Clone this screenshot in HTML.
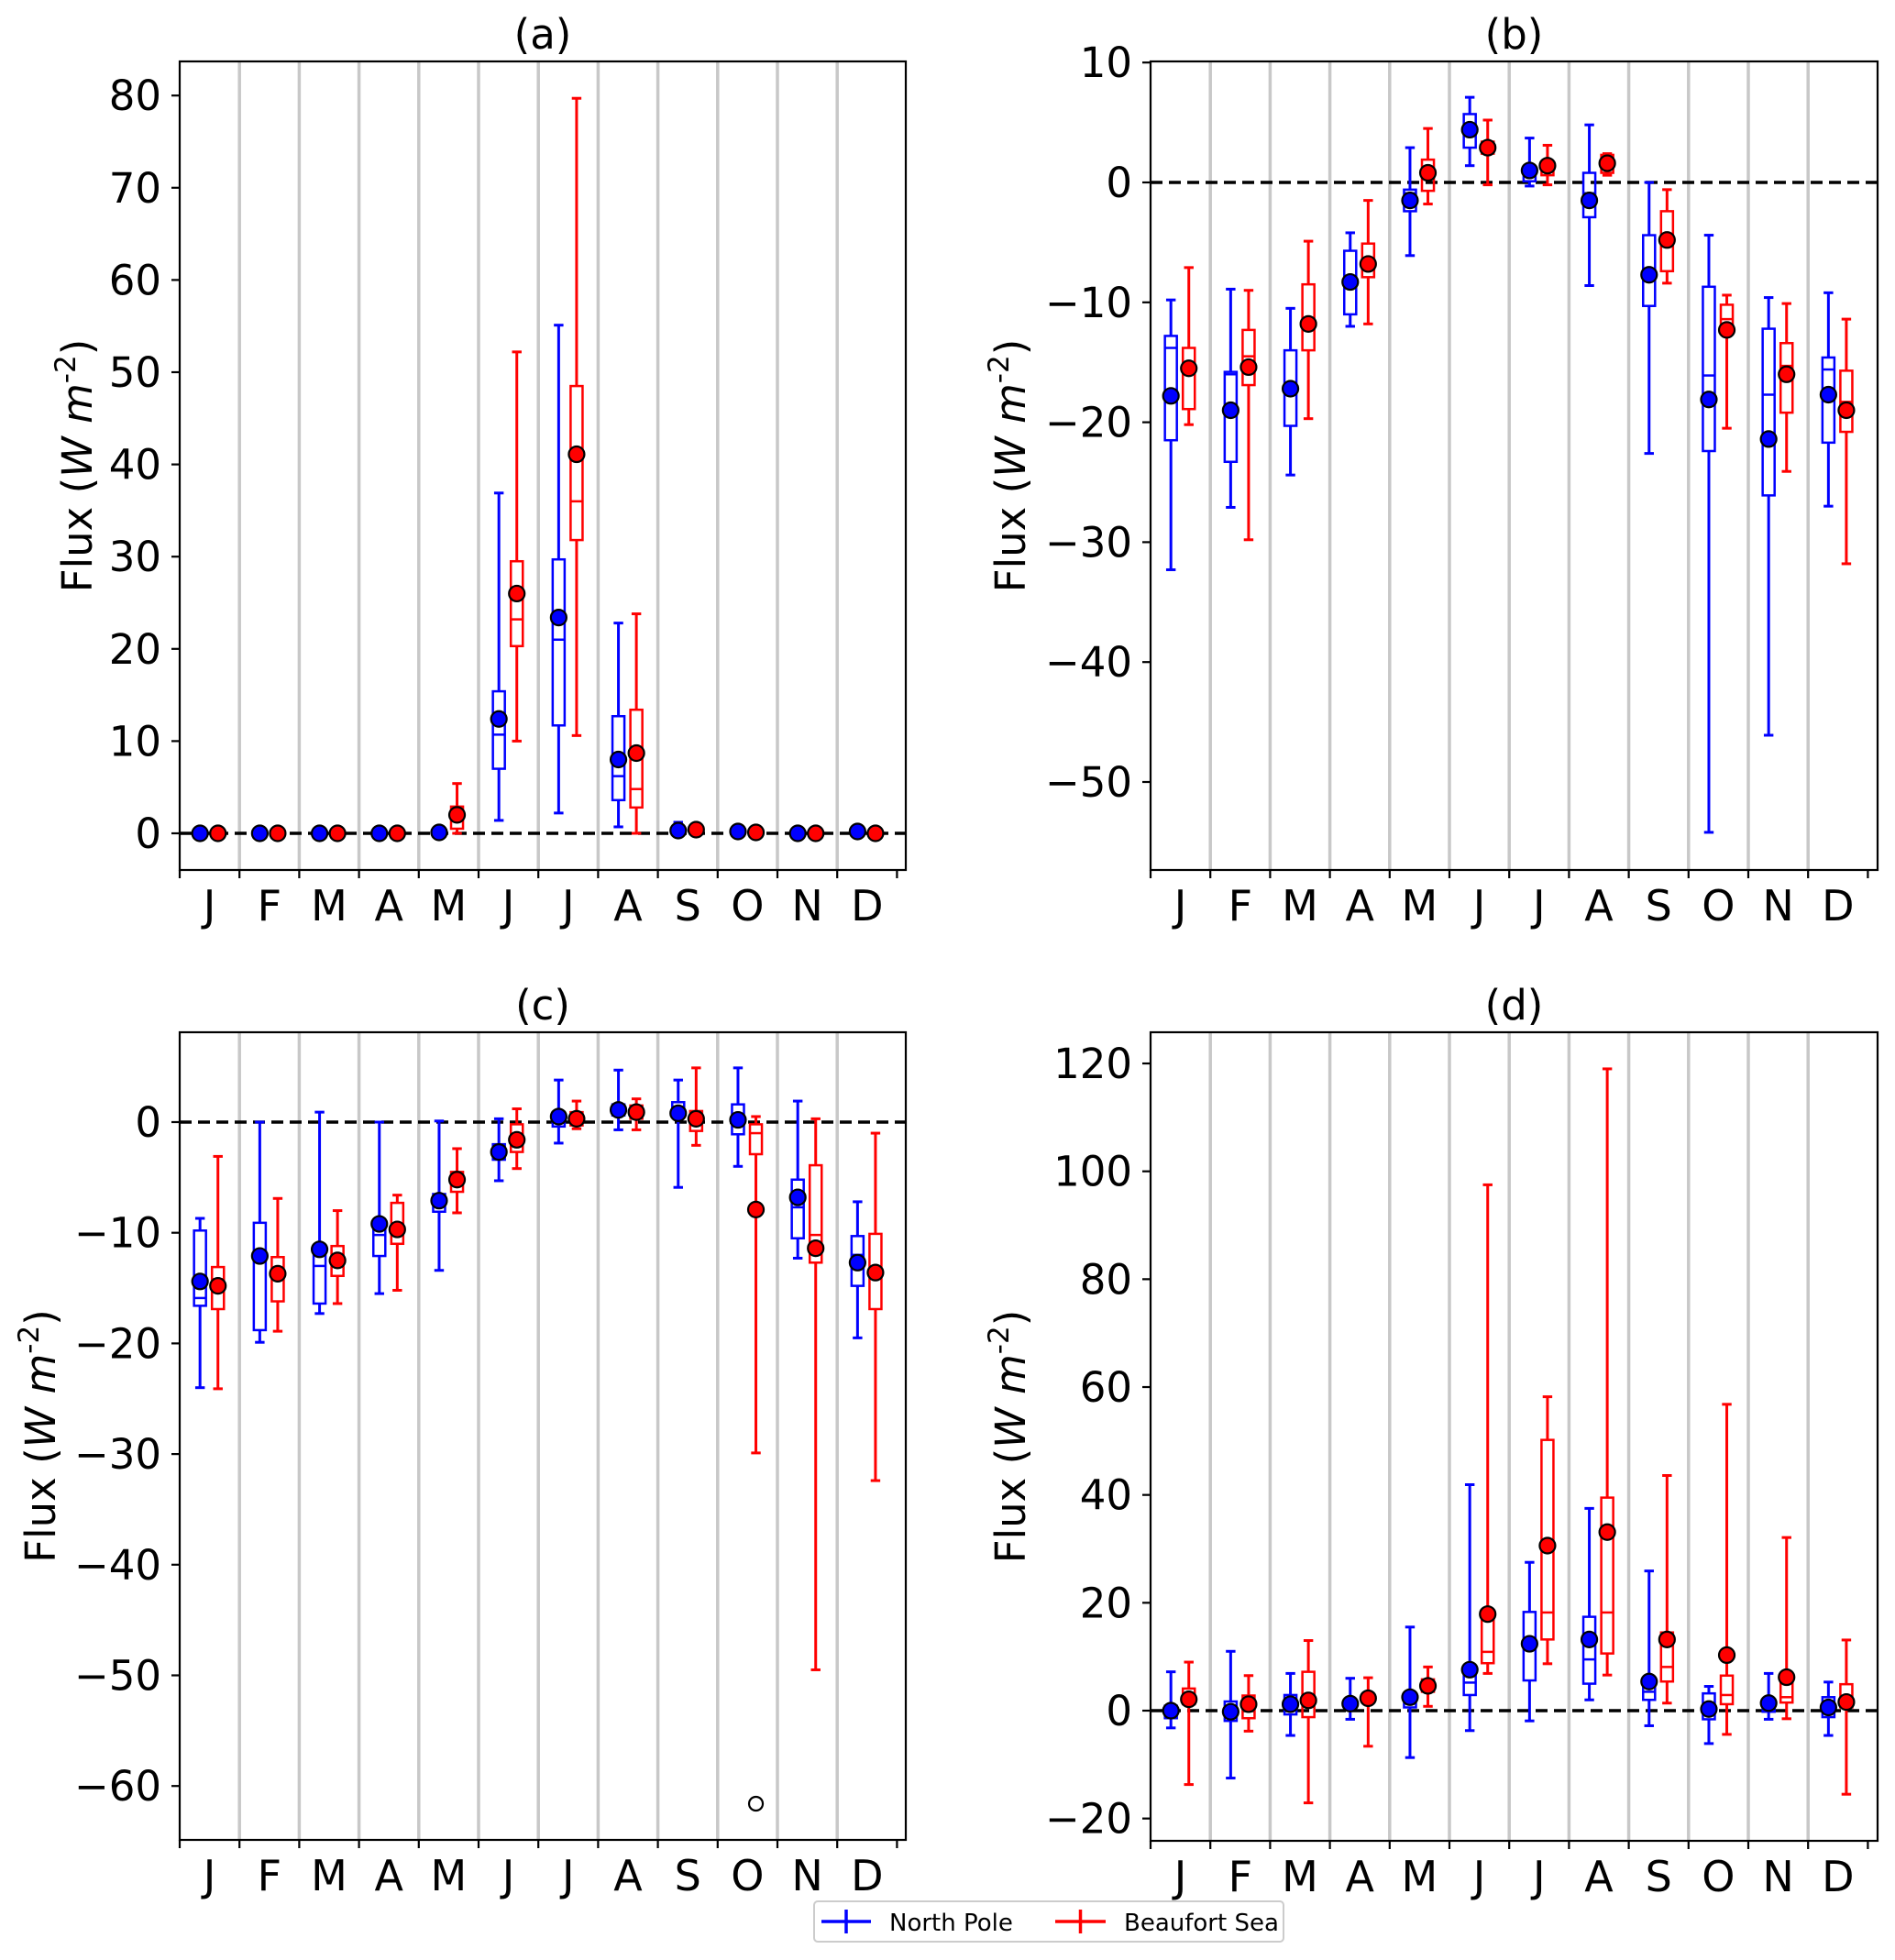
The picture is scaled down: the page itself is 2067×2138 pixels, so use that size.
<!DOCTYPE html>
<html><head><meta charset="utf-8"><style>
html,body{margin:0;padding:0;background:#fff}
svg{display:block;font-family:"DejaVu Sans","Liberation Sans",sans-serif}
</style></head><body>
<svg id="fig" width="2067" height="2138" viewBox="0 0 2067 2138" xmlns="http://www.w3.org/2000/svg"></svg>
<script>
const months = ["J","F","M","A","M","J","J","A","S","O","N","D"];
// Panel (a)
const a_np_lo=[0,0,0,0,0,1.4,2.2,0.7,0,0,0,0];
const a_np_q1=[0,0,0,0,0,7.0,11.7,3.6,0,0,0,0];
const a_np_med=[0,0,0,0,0,10.7,21.0,6.2,0.2,0,0,0];
const a_np_q3=[0,0,0,0,0.1,15.4,29.7,12.7,0.5,0.1,0,0.1];
const a_np_hi=[0,0,0,0,0.2,36.9,55.1,22.8,1.2,0.3,0,0.3];
const a_np_mean=[0,0,0,0,0.1,12.4,23.4,8.0,0.3,0.2,0,0.2];
const a_bs_lo=[0,0,0,0,0,10.0,10.6,0,0,0,0,0];
const a_bs_q1=[0,0,0,0,0.5,20.3,31.8,2.8,0.1,0,0,0];
const a_bs_med=[0,0,0,0,1.5,23.2,36.0,4.8,0.3,0.1,0,0];
const a_bs_q3=[0,0,0,0,2.9,29.5,48.5,13.4,0.5,0.2,0,0];
const a_bs_hi=[0,0,0,0,5.4,52.2,79.7,23.8,0.8,0.3,0,0];
const a_bs_mean=[0,0,0,0,2.0,26.0,41.1,8.7,0.4,0.1,0,0];
// Panel (b)
const b_np_lo=[-32.3,-27.1,-24.4,-12.0,-6.1,1.4,-0.3,-8.6,-22.6,-54.2,-46.1,-27.0];
const b_np_q1=[-21.5,-23.3,-20.3,-11.0,-2.4,2.9,0.1,-2.9,-10.3,-22.4,-26.1,-21.7];
const b_np_med=[-13.8,-16.0,-17.0,-8.0,-0.9,4.8,0.6,-0.9,-7.2,-16.1,-17.7,-15.6];
const b_np_q3=[-12.8,-15.8,-14.0,-5.7,-0.6,5.7,1.1,0.8,-4.4,-8.7,-12.2,-14.6];
const b_np_hi=[-9.8,-8.9,-10.5,-4.2,2.9,7.1,3.7,4.8,0,-4.4,-9.6,-9.2];
const b_np_mean=[-17.8,-19.0,-17.2,-8.3,-1.5,4.4,1.0,-1.5,-7.7,-18.1,-21.4,-17.7];
const b_bs_lo=[-20.2,-29.8,-19.7,-11.8,-1.8,-0.2,-0.2,0.6,-8.4,-20.5,-24.1,-31.8];
const b_bs_q1=[-18.9,-16.9,-14.0,-7.9,-0.7,2.4,0.6,0.8,-7.4,-12.1,-19.2,-20.8];
const b_bs_med=[-15.3,-14.5,-11.4,-6.9,1.1,3.1,1.1,1.8,-4.6,-11.4,-15.3,-18.3];
const b_bs_q3=[-13.8,-12.3,-8.5,-5.1,1.9,3.4,1.6,2.3,-2.4,-10.2,-13.4,-15.7];
const b_bs_hi=[-7.1,-9.0,-4.9,-1.5,4.5,5.2,3.1,2.4,-0.6,-9.4,-10.1,-11.4];
const b_bs_mean=[-15.5,-15.4,-11.8,-6.8,0.8,2.9,1.4,1.6,-4.8,-12.3,-16.0,-19.0];
// Panel (c)
const c_np_lo=[-24.0,-19.9,-17.3,-15.5,-13.4,-5.3,-1.9,-0.7,-5.9,-4.0,-12.3,-19.5];
const c_np_q1=[-16.6,-18.8,-16.4,-12.1,-8.1,-3.4,-0.4,0.6,1.0,-1.1,-10.5,-14.8];
const c_np_med=[-15.9,-12.0,-13.0,-10.2,-7.5,-2.7,0.5,1.1,1.4,0.5,-7.7,-12.0];
const c_np_q3=[-9.8,-9.1,-11.7,-9.4,-6.5,-2.0,0.9,1.6,1.8,1.6,-5.2,-10.3];
const c_np_hi=[-8.7,0,0.9,0,0.1,0.3,3.8,4.7,3.8,4.9,1.9,-7.2];
const c_np_mean=[-14.4,-12.1,-11.5,-9.2,-7.1,-2.7,0.5,1.1,0.8,0.2,-6.8,-12.7];
const c_bs_lo=[-24.1,-18.9,-16.4,-15.2,-8.2,-4.2,-0.6,-0.7,-2.1,-29.9,-49.5,-32.4];
const c_bs_q1=[-16.9,-16.2,-13.9,-11.0,-6.3,-2.7,-0.3,0.3,-0.8,-2.9,-12.7,-16.9];
const c_bs_med=[-14.2,-13.7,-12.0,-9.4,-5.2,-1.2,0.3,0.9,0.3,-1.0,-10.2,-13.2];
const c_bs_q3=[-13.1,-12.2,-11.2,-7.3,-4.5,-0.2,0.9,1.5,1.0,-0.2,-3.9,-10.1];
const c_bs_hi=[-3.1,-6.9,-8.0,-6.6,-2.4,1.2,1.9,2.1,4.9,0.5,0.3,-1.0];
const c_bs_mean=[-14.8,-13.7,-12.5,-9.7,-5.2,-1.6,0.3,0.9,0.3,-7.9,-11.4,-13.6];
const c_bs_outlierMonth=[9];
const c_bs_outlierValue=[-61.6];
// Panel (d)
const d_np_lo=[-3.2,-12.5,-4.6,-1.6,-8.7,-3.7,-1.9,2.0,-2.8,-6.1,-1.6,-4.6];
const d_np_q1=[-1.4,-1.9,-0.7,0.6,0.6,2.9,5.6,5.0,2.0,-1.6,-0.2,-1.2];
const d_np_med=[0,0.6,1.2,1.2,2.1,5.2,12.7,9.5,3.5,0.6,0.6,0.6];
const d_np_q3=[0.9,1.7,2.9,1.7,2.9,6.9,18.3,17.4,4.6,3.2,1.2,2.5];
const d_np_hi=[7.2,11.0,6.9,6.0,15.5,41.9,27.5,37.5,25.9,4.5,6.9,5.3];
const d_np_mean=[0,-0.2,1.2,1.3,2.5,7.6,12.4,13.2,5.4,0.3,1.4,0.6];
const d_bs_lo=[-13.7,-3.8,-17.1,-6.6,0.8,6.9,8.7,6.6,1.4,-4.4,-1.5,-15.5];
const d_bs_q1=[1.2,-1.4,-1.2,1.7,3.5,8.8,13.2,10.6,5.4,1.2,1.5,0.6];
const d_bs_med=[2.3,1.4,1.2,2.3,4.9,10.9,18.2,18.2,8.1,2.9,2.5,2.3];
const d_bs_q3=[4.1,2.8,7.2,2.9,5.8,17.9,50.2,39.5,14.5,6.5,5.8,4.9];
const d_bs_hi=[9.0,6.5,13.0,6.1,8.1,97.5,58.2,119,43.6,56.8,32.1,13.1];
const d_bs_mean=[2.1,1.2,1.9,2.3,4.6,17.9,30.6,33.1,13.2,10.3,6.2,1.6];

const a_ticks=[0,10,20,30,40,50,60,70,80];
const b_ticks=[10,0,-10,-20,-30,-40,-50];
const c_ticks=[0,-10,-20,-30,-40,-50,-60];
const d_ticks=[-20,0,20,40,60,80,100,120];

const NS="http://www.w3.org/2000/svg";
const svg=document.getElementById('fig');
function mk(tag,attrs,parent){const e=document.createElementNS(NS,tag);for(const k in attrs)e.setAttribute(k,attrs[k]);(parent||svg).appendChild(e);return e;}

const panels=[
 {key:'a',L:196,R:988,T:67,B:949,y0:909,ppu:10.06,ticks:a_ticks,labX:84,
  np:[a_np_lo,a_np_q1,a_np_med,a_np_q3,a_np_hi,a_np_mean],bs:[a_bs_lo,a_bs_q1,a_bs_med,a_bs_q3,a_bs_hi,a_bs_mean]},
 {key:'b',L:1255,R:2048,T:67,B:949,y0:199,ppu:13.08,ticks:b_ticks,labX:1102,
  np:[b_np_lo,b_np_q1,b_np_med,b_np_q3,b_np_hi,b_np_mean],bs:[b_bs_lo,b_bs_q1,b_bs_med,b_bs_q3,b_bs_hi,b_bs_mean]},
 {key:'c',L:196,R:988,T:1126,B:2007,y0:1224,ppu:12.07,ticks:c_ticks,labX:44,
  np:[c_np_lo,c_np_q1,c_np_med,c_np_q3,c_np_hi,c_np_mean],bs:[c_bs_lo,c_bs_q1,c_bs_med,c_bs_q3,c_bs_hi,c_bs_mean],
  outM:c_bs_outlierMonth,outV:c_bs_outlierValue},
 {key:'d',L:1255,R:2048,T:1126,B:2008,y0:1866,ppu:5.883,ticks:d_ticks,labX:1102,
  np:[d_np_lo,d_np_q1,d_np_med,d_np_q3,d_np_hi,d_np_mean],bs:[d_bs_lo,d_bs_q1,d_bs_med,d_bs_q3,d_bs_hi,d_bs_mean]}
];
const SP=65.2;

panels.forEach(p=>{
  const g=mk('g',{});
  
  
  const xs=u=>p.L+u*SP;
  const ys=v=>p.y0-v*p.ppu;
  for(let k=1;k<12;k++){
    const l=mk('line',{x1:xs(k),x2:xs(k),y1:p.T,y2:p.B,stroke:'#c8c8c8','stroke-width':3.5},g);
    
    
  }
  const z=mk('line',{x1:p.L,x2:p.R,y1:ys(0),y2:ys(0),stroke:'#000','stroke-width':3.5,'stroke-dasharray':'13,7'},g);
  
  
  const series=[{d:p.np,c:'#0000ff',off:0.34,n:'north-pole'},{d:p.bs,c:'#ff0000',off:0.64,n:'beaufort-sea'}];
  series.forEach(s=>{
    for(let i=0;i<12;i++){
      const [lo,q1,med,q3,hi,mean]=s.d.map(a=>a[i]);
      const cx=xs(i+s.off), hw=0.1*SP, cw=0.08*SP;
      const bg=mk('g',{},g);
      
      
      mk('line',{x1:cx,x2:cx,y1:ys(hi),y2:ys(q3),stroke:s.c,'stroke-width':3},bg);
      mk('line',{x1:cx,x2:cx,y1:ys(q1),y2:ys(lo),stroke:s.c,'stroke-width':3},bg);
      mk('line',{x1:cx-cw,x2:cx+cw,y1:ys(hi),y2:ys(hi),stroke:s.c,'stroke-width':3},bg);
      mk('line',{x1:cx-cw,x2:cx+cw,y1:ys(lo),y2:ys(lo),stroke:s.c,'stroke-width':3},bg);
      mk('rect',{x:cx-hw,y:ys(q3),width:2*hw,height:Math.max(0.5,ys(q1)-ys(q3)),fill:'none',stroke:s.c,'stroke-width':2.5},bg);
      mk('line',{x1:cx-hw,x2:cx+hw,y1:ys(med),y2:ys(med),stroke:s.c,'stroke-width':2.5},bg);
      const m=mk('circle',{cx:cx,cy:ys(mean),r:8.5,fill:s.c,stroke:'#000','stroke-width':2.2},g);
      
      
    }
  });
  if(p.outM){
    p.outM.forEach((mo,j)=>{
      const o=mk('circle',{cx:xs(mo+0.64),cy:ys(p.outV[j]),r:7.5,fill:'none',stroke:'#000','stroke-width':2.2},g);
      
      
    });
  }
  const f=mk('rect',{x:p.L,y:p.T,width:p.R-p.L,height:p.B-p.T,fill:'none',stroke:'#000','stroke-width':2.2},g);
  
  
  for(let k=0;k<=12;k++) mk('line',{x1:xs(k),x2:xs(k),y1:p.B,y2:p.B+9,stroke:'#000','stroke-width':2.2},g);
  months.forEach((mo,i)=>{
    const t=mk('text',{x:xs(i+0.5),y:p.B+55,'font-size':46,'text-anchor':'middle',fill:'#000'},g);
    t.textContent=mo;
    
    
  });
  p.ticks.forEach(v=>{
    mk('line',{x1:p.L-9,x2:p.L,y1:ys(v),y2:ys(v),stroke:'#000','stroke-width':2.2},g);
    const t=mk('text',{x:p.L-20,y:ys(v)+16,'font-size':45,'text-anchor':'end',fill:'#000'},g);
    t.textContent=v<0?'\u2212'+Math.abs(v):String(v);
    
    
  });
  const cy=(p.T+p.B)/2;
  const yl=mk('text',{x:p.labX,y:cy,'font-size':45,'text-anchor':'middle',fill:'#000',transform:`rotate(-90 ${p.labX} ${cy})`,dy:16},g);
  
  
  yl.innerHTML='Flux (<tspan font-style="italic">W m</tspan><tspan font-size="31" dy="-18">-2</tspan><tspan dy="18">)</tspan>';
  const tt=mk('text',{x:(p.L+p.R)/2,y:p.T-14,'font-size':45,'text-anchor':'middle',fill:'#000'},g);
  tt.textContent='('+p.key+')';
  
  
});

const lg=mk('g',{});


mk('rect',{x:888,y:2074,width:512,height:44,rx:4,fill:'#fff',stroke:'#cccccc','stroke-width':2},lg);
const ents=[{c:'#0000ff',x1:896,x2:950,tx:970,t:'North Pole',n:'legend-entry-north-pole'},
            {c:'#ff0000',x1:1151,x2:1206,tx:1226,t:'Beaufort Sea',n:'legend-entry-beaufort-sea'}];
ents.forEach(e=>{
  const eg=mk('g',{},lg);
  
  
  mk('line',{x1:e.x1,x2:e.x2,y1:2096,y2:2096,stroke:e.c,'stroke-width':3.5},eg);
  mk('line',{x1:(e.x1+e.x2)/2,x2:(e.x1+e.x2)/2,y1:2083,y2:2109,stroke:e.c,'stroke-width':3.5},eg);
  const t=mk('text',{x:e.tx,y:2106,'font-size':26,fill:'#000'},eg);
  t.textContent=e.t;
});
</script>
</body></html>
